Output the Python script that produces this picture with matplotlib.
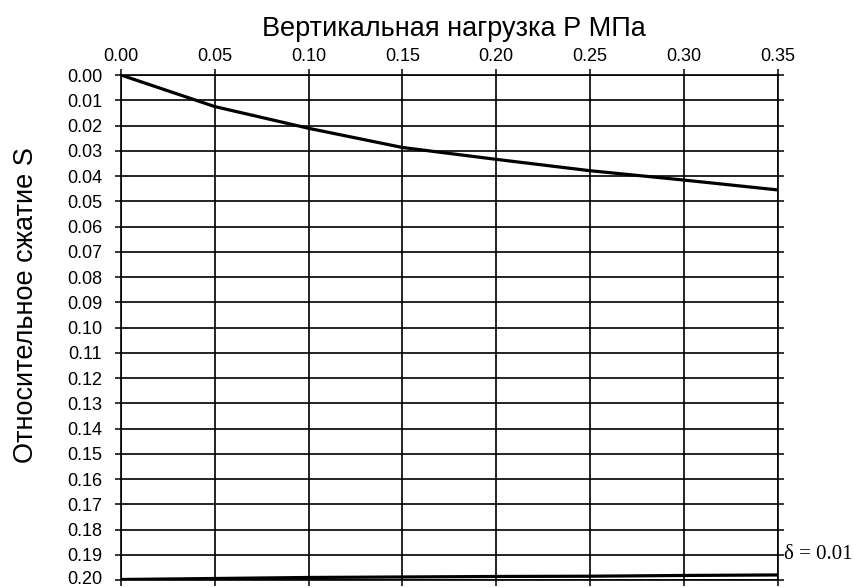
import numpy as np
import matplotlib.pyplot as plt
import matplotlib.transforms as mtransforms

# load P (MPa) vs relative compression S
p = [0.00, 0.05, 0.10, 0.15, 0.20, 0.25, 0.30, 0.35]
s_main = [0.0, 0.0125, 0.0211, 0.0287, 0.0334, 0.0379, 0.0416, 0.0455]
s_low = [0.1998, 0.1994, 0.1990, 0.1988, 0.1986, 0.1985, 0.1982, 0.1980]

x_ticks = [0.00, 0.05, 0.10, 0.15, 0.20, 0.25, 0.30, 0.35]
y_ticks = np.round(np.arange(0, 0.2001, 0.01), 2)

plt.rcParams['font.family'] = ['Liberation Sans', 'DejaVu Sans']

fig = plt.figure(figsize=(8.54, 5.88), dpi=100)
ax = fig.add_axes([0.1417, 0.0136, 0.7690, 0.8588])

ax.plot(p, s_main, color='black', lw=2.3, solid_capstyle='butt')
ax.plot(p, s_low, color='black', lw=2.3, solid_capstyle='butt')

ax.set_xlim(0, 0.35)
ax.set_ylim(0.20, 0.0)
ax.set_xticks(x_ticks)
ax.set_xticklabels([f'{v:.2f}' for v in x_ticks])
ax.set_yticks(y_ticks)
ax.set_yticklabels([f'{v:.2f}' for v in y_ticks])

ax.xaxis.tick_top()
ax.xaxis.set_label_position('top')
ax.tick_params(axis='both', which='both', direction='out', length=4, width=1.1,
               labelsize=13, top=True, bottom=True, left=True, right=True,
               labelbottom=False, labelright=False)
ax.tick_params(axis='x', pad=3.5)
ax.tick_params(axis='y', pad=9.5)
ax.grid(True, color='black', lw=1.2)
for sp in ax.spines.values():
    sp.set_linewidth(1.2)

# keep the bottom tick label inside the figure
last = ax.get_yticklabels()[-1]
last.set_transform(last.get_transform() +
                   mtransforms.ScaledTranslation(0, 2 / 72, fig.dpi_scale_trans))

ax.set_xlabel('Вертикальная нагрузка Р МПа', fontsize=19.5)
ax.xaxis.set_label_coords(0.5076, 1.078)
ax.set_ylabel('Относительное сжатие S', fontsize=19.5)
ax.yaxis.set_label_coords(-0.125, 0.545)

ax.text(1.01, 0.19, 'δ = 0.01', transform=ax.get_yaxis_transform(),
        family=['Liberation Serif', 'DejaVu Serif'], fontsize=15, va='center', ha='left')

fig.savefig('out.png', dpi=100)
